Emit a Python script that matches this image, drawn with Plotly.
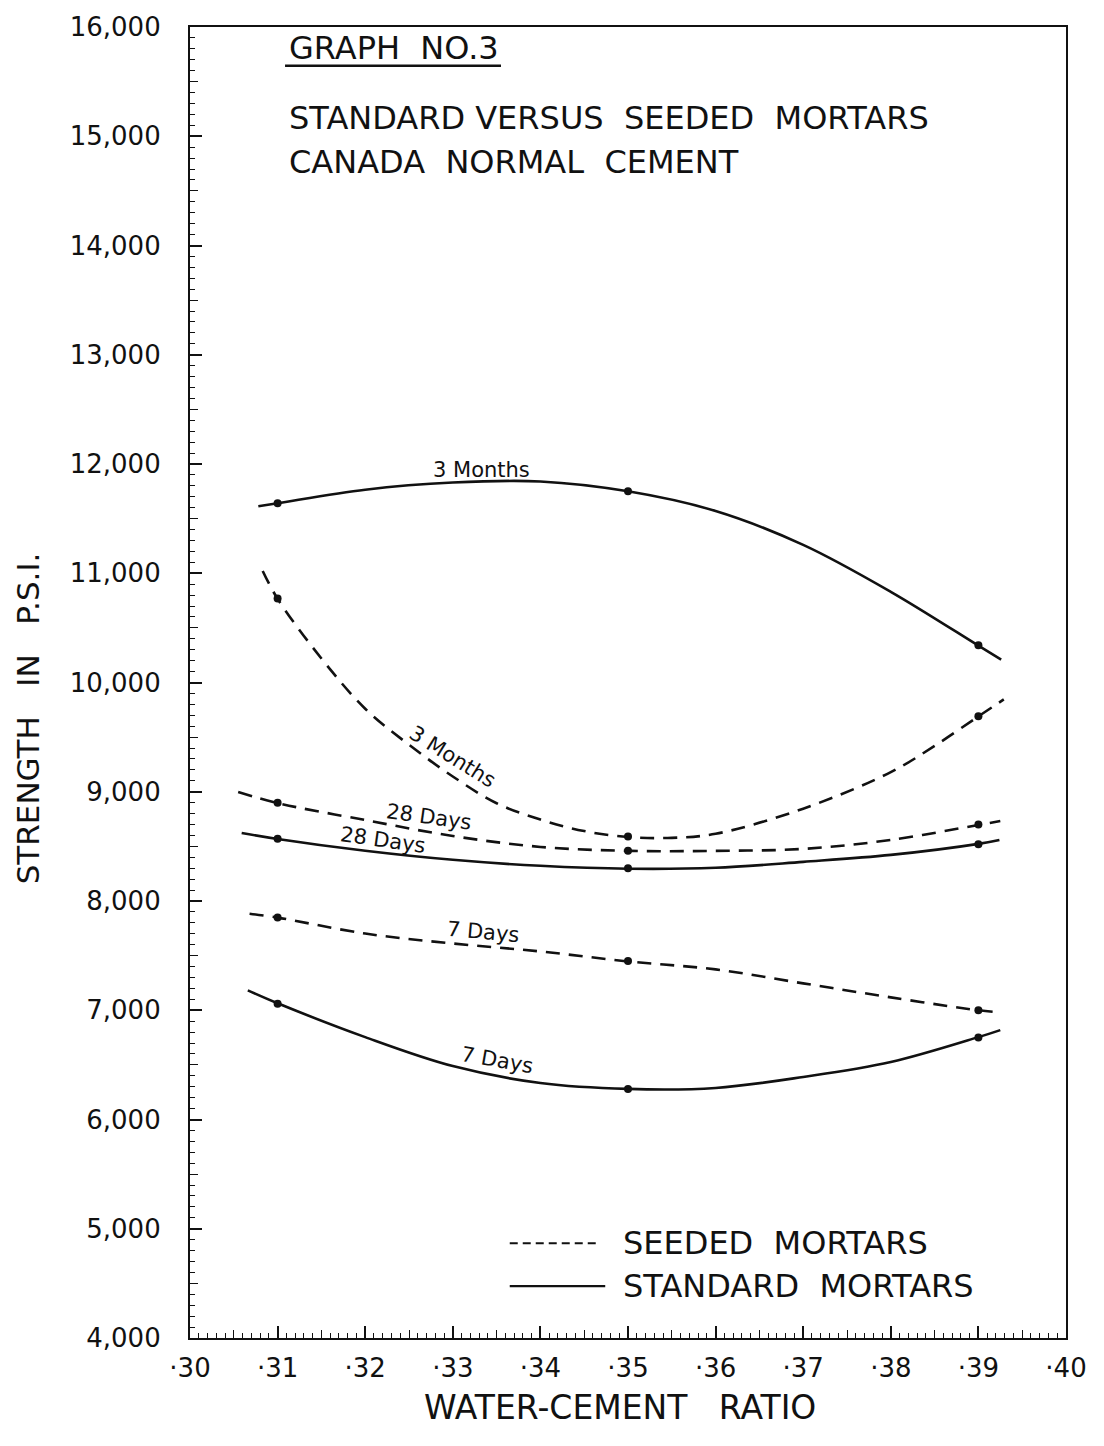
import plotly.graph_objects as go

# ---------------- data ----------------
ratio_pts = [0.31, 0.35, 0.39]

std3_pts = [11640, 11750, 10340]
seed3_pts = [10770, 8590, 9690]
seed28_pts = [8900, 8460, 8700]
std28_pts = [8570, 8300, 8520]
seed7_pts = [7850, 7450, 7000]
std7_pts = [7060, 6280, 6750]

# drawn (faired) curves
std3_x = [0.3078, 0.31, 0.32, 0.33, 0.34, 0.35, 0.36, 0.37, 0.38, 0.39, 0.3926]
std3_y = [11614, 11641, 11765, 11830, 11840, 11750, 11570, 11260, 10830, 10337, 10209]

seed3_x = [0.3083, 0.31, 0.315, 0.32, 0.325, 0.33, 0.335, 0.34, 0.345, 0.35, 0.355, 0.36, 0.37, 0.38, 0.385, 0.39, 0.3929]
seed3_y = [11021, 10766, 10220, 9760, 9430, 9140, 8895, 8745, 8640, 8586, 8578, 8615, 8845, 9180, 9420, 9690, 9845]

seed28_x = [0.3055, 0.31, 0.32, 0.33, 0.34, 0.35, 0.36, 0.37, 0.38, 0.39, 0.3925]
seed28_y = [8997, 8896, 8741, 8595, 8495, 8459, 8459, 8477, 8559, 8696, 8732]

std28_x = [0.3059, 0.31, 0.32, 0.33, 0.34, 0.35, 0.36, 0.37, 0.38, 0.39, 0.3924]
std28_y = [8623, 8568, 8460, 8377, 8322, 8295, 8304, 8358, 8422, 8523, 8559]

seed7_x = [0.3068, 0.31, 0.32, 0.33, 0.34, 0.35, 0.36, 0.37, 0.38, 0.39, 0.3924]
seed7_y = [7884, 7848, 7702, 7611, 7538, 7447, 7374, 7246, 7118, 7000, 6982]

std7_x = [0.3066, 0.31, 0.32, 0.33, 0.34, 0.35, 0.36, 0.37, 0.38, 0.39, 0.3925]
std7_y = [7182, 7064, 6754, 6489, 6334, 6280, 6289, 6389, 6526, 6754, 6818]

x_tickvals = [0.30, 0.31, 0.32, 0.33, 0.34, 0.35, 0.36, 0.37, 0.38, 0.39, 0.40]
x_ticktext = ["·30", "·31", "·32", "·33", "·34", "·35", "·36", "·37", "·38", "·39", "·40"]
x_midvals = [0.305, 0.315, 0.325, 0.335, 0.345, 0.355, 0.365, 0.375, 0.385, 0.395]
y_tickvals = [4000, 5000, 6000, 7000, 8000, 9000, 10000, 11000, 12000, 13000, 14000, 15000, 16000]
y_ticktext = ["4,000", "5,000", "6,000", "7,000", "8,000", "9,000", "10,000", "11,000",
              "12,000", "13,000", "14,000", "15,000", "16,000"]
y_midvals = [4500, 5500, 6500, 7500, 8500, 9500, 10500, 11500, 12500, 13500, 14500, 15500]

# curve labels: (text, x, y, angle)
curve_labels = [
    ("3 Months", 0.3333, 11942, 0),
    ("3 Months", 0.3300, 9316, 32),
    ("28 Days", 0.3273, 8770, 8),
    ("28 Days", 0.3220, 8560, 8),
    ("7 Days", 0.3335, 7715, 5),
    ("7 Days", 0.3350, 6544, 10),
]

FONT = "DejaVu Sans"
BLACK = "#111111"
DASH = "14px,9px"
NB = "\u00a0"

fig = go.Figure()

curves = [
    (std3_x, std3_y, "solid"),
    (std28_x, std28_y, "solid"),
    (std7_x, std7_y, "solid"),
    (seed3_x, seed3_y, DASH),
    (seed28_x, seed28_y, DASH),
    (seed7_x, seed7_y, DASH),
]
for xs, ys, dash in curves:
    fig.add_trace(go.Scatter(
        x=xs, y=ys, mode="lines", showlegend=False,
        line=dict(color=BLACK, width=2.6, dash=dash, shape="spline", smoothing=1.0),
        hoverinfo="skip"))

for pts in [std3_pts, seed3_pts, seed28_pts, std28_pts, seed7_pts, std7_pts]:
    fig.add_trace(go.Scatter(
        x=ratio_pts, y=pts, mode="markers", showlegend=False,
        marker=dict(color=BLACK, size=8)))

# invisible trace for overlay axes (medium ticks)
fig.add_trace(go.Scatter(x=[0.35], y=[10000], xaxis="x2", yaxis="y2", mode="markers",
                         marker=dict(opacity=0), showlegend=False, hoverinfo="skip"))

for text, x, y, ang in curve_labels:
    fig.add_annotation(x=x, y=y, text=text, showarrow=False, textangle=ang,
                       font=dict(family=FONT, size=21, color=BLACK))

TF = dict(family=FONT, size=32, color=BLACK)
# title block
fig.add_annotation(xref="paper", yref="paper", x=0.1107, y=0.984, xanchor="left",
                   yanchor="middle", text="GRAPH" + NB * 2 + "NO.3", showarrow=False, font=TF)
fig.add_shape(type="line", xref="paper", yref="paper", x0=0.1085, x1=0.355,
              y0=0.9705, y1=0.9705, line=dict(color=BLACK, width=2.5))
fig.add_annotation(xref="paper", yref="paper", x=0.1107, y=0.9308, xanchor="left",
                   yanchor="middle", text="STANDARD VERSUS" + NB * 2 + "SEEDED" + NB * 2 + "MORTARS",
                   showarrow=False, font=TF)
fig.add_annotation(xref="paper", yref="paper", x=0.1107, y=0.8974, xanchor="left",
                   yanchor="middle", text="CANADA" + NB * 2 + "NORMAL" + NB * 2 + "CEMENT",
                   showarrow=False, font=TF)

# legend (drawn)
fig.add_shape(type="line", xref="paper", yref="paper", x0=0.365, x1=0.468,
              y0=(1338 - 1243) / 1316, y1=(1338 - 1243) / 1316,
              line=dict(color=BLACK, width=2, dash="8px,5px"))
fig.add_shape(type="line", xref="paper", yref="paper", x0=0.365, x1=0.474,
              y0=(1338 - 1286) / 1316, y1=(1338 - 1286) / 1316,
              line=dict(color=BLACK, width=2.2))
fig.add_annotation(xref="paper", yref="paper", x=(621 - 190) / 876, y=(1338 - 1243) / 1316,
                   xanchor="left", yanchor="middle", text="SEEDED" + NB * 2 + "MORTARS",
                   showarrow=False, font=TF)
fig.add_annotation(xref="paper", yref="paper", x=(621 - 190) / 876, y=(1338 - 1286) / 1316,
                   xanchor="left", yanchor="middle", text="STANDARD" + NB * 2 + "MORTARS",
                   showarrow=False, font=TF)

# axis titles
fig.add_annotation(xref="paper", yref="paper", x=(620 - 190) / 876, y=(1338 - 1408) / 1316,
                   xanchor="center", yanchor="middle", text="WATER-CEMENT" + NB * 3 + "RATIO",
                   showarrow=False, font=dict(family=FONT, size=33, color=BLACK))
fig.add_annotation(xref="paper", yref="paper", x=(28 - 190) / 876, y=(1338 - 716) / 1316,
                   xanchor="center", yanchor="middle", textangle=-90,
                   text="STRENGTH" + NB * 3 + "IN" + NB * 3 + "P.S.I.",
                   showarrow=False, font=dict(family=FONT, size=31, color=BLACK))

fig.update_layout(
    width=1104, height=1446,
    margin=dict(l=190, r=38, t=22, b=108),
    paper_bgcolor="white", plot_bgcolor="white",
    showlegend=False,
    xaxis=dict(range=[0.30, 0.40], tickvals=x_tickvals, ticktext=x_ticktext,
               ticks="inside", ticklen=12, tickwidth=1.6, tickcolor=BLACK,
               minor=dict(dtick=0.001, tick0=0.30, ticks="inside", ticklen=5,
                          tickwidth=1.2, tickcolor=BLACK, showgrid=False),
               showgrid=False, zeroline=False, showline=True, linecolor=BLACK,
               linewidth=2.2, mirror=True,
               tickfont=dict(family=FONT, size=26, color=BLACK), ticklabelstandoff=6),
    yaxis=dict(range=[4000, 16000], tickvals=y_tickvals, ticktext=y_ticktext,
               ticks="inside", ticklen=12, tickwidth=1.6, tickcolor=BLACK,
               minor=dict(dtick=100, tick0=4000, ticks="inside", ticklen=5,
                          tickwidth=1.2, tickcolor=BLACK, showgrid=False),
               showgrid=False, zeroline=False, showline=True, linecolor=BLACK,
               linewidth=2.2, mirror=True,
               tickfont=dict(family=FONT, size=26, color=BLACK), ticklabelstandoff=22),
    xaxis2=dict(range=[0.30, 0.40], overlaying="x", anchor="y", side="bottom",
                tickvals=x_midvals, ticks="inside", ticklen=8, tickwidth=1.4,
                tickcolor=BLACK, showticklabels=False, showgrid=False,
                zeroline=False, showline=False),
    yaxis2=dict(range=[4000, 16000], overlaying="y", anchor="x", side="left",
                tickvals=y_midvals, ticks="inside", ticklen=8, tickwidth=1.4,
                tickcolor=BLACK, showticklabels=False, showgrid=False,
                zeroline=False, showline=False),
)

fig.write_html("out.html")
